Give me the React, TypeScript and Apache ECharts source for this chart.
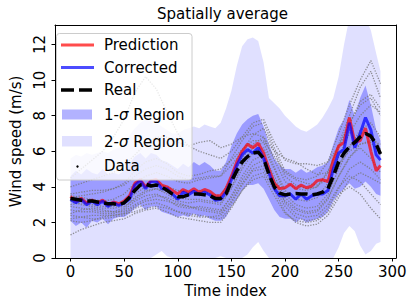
import React, { useEffect, useRef } from 'react';
import * as echarts from 'echarts';

const FONT = 'DejaVu Sans';

const timeIndex = [0, 5, 10, 15, 20, 25, 30, 35, 40, 45, 50, 55, 60, 65, 70, 75, 80, 85, 90, 95, 100, 105, 110, 115, 120, 125, 130, 135, 140, 145, 150, 155, 160, 165, 170, 175, 180, 185, 190, 195, 200, 205, 210, 215, 220, 225, 230, 235, 240, 245, 250, 255, 260, 265, 270, 275, 280, 285, 289];

const prediction = [3.45, 3.2, 3.35, 3.1, 3.25, 3.1, 3.25, 3.0, 3.15, 3.05, 3.2, 3.5, 4.2, 4.4, 4.0, 4.35, 4.4, 4.1, 4.0, 3.8, 3.6, 3.85, 3.7, 3.9, 3.7, 3.85, 3.75, 3.5, 3.5, 3.9, 4.6, 5.4, 6.0, 6.4, 6.2, 6.45, 5.9, 5.0, 4.2, 3.9, 3.95, 4.15, 3.9, 4.1, 3.95, 4.05, 4.35, 4.4, 4.3, 5.5, 6.3, 6.5, 7.9, 6.5, 6.6, 7.3, 6.0, 4.9, 5.2];

const corrected = [3.3, 3.1, 3.3, 3.0, 3.2, 3.0, 3.2, 2.9, 3.1, 2.95, 3.1, 3.3, 4.1, 4.35, 3.9, 4.3, 4.3, 3.9, 3.9, 3.6, 3.3, 3.7, 3.55, 3.75, 3.55, 3.7, 3.55, 3.25, 3.3, 3.7, 4.4, 5.2, 5.8, 6.1, 5.9, 6.2, 5.6, 4.8, 3.9, 3.5, 3.5, 3.6, 3.3, 3.6, 3.3, 3.5, 3.6, 3.6, 3.8, 5.0, 5.9, 6.1, 7.6, 6.2, 7.0, 7.9, 7.2, 5.8, 5.5];

const real = [3.35, 3.3, 3.25, 3.2, 3.2, 3.15, 3.1, 3.05, 3.05, 3.0, 3.1, 3.4, 3.8, 4.1, 4.15, 4.05, 4.1, 4.0, 3.8, 3.6, 3.45, 3.45, 3.55, 3.6, 3.6, 3.55, 3.5, 3.35, 3.35, 3.6, 4.3, 4.9, 5.4, 5.7, 5.9, 5.95, 5.6, 4.7, 4.0, 3.65, 3.55, 3.6, 3.62, 3.6, 3.6, 3.55, 3.6, 3.7, 3.9, 4.6, 5.4, 5.9, 6.25, 6.5, 6.8, 7.0, 6.85, 6.4, 5.85];

const sigma1Lower = [2.1, 1.8, 2.0, 1.7, 2.1, 2.0, 2.2, 1.9, 2.2, 2.3, 2.3, 2.5, 2.8, 3.0, 2.7, 2.9, 2.9, 2.6, 2.5, 2.4, 2.3, 2.4, 2.3, 2.5, 2.3, 2.4, 2.2, 2.1, 2.1, 2.3, 2.9, 3.3, 3.8, 4.1, 4.1, 4.2, 3.9, 3.3, 2.7, 2.3, 2.2, 2.2, 2.0, 2.2, 2.0, 2.1, 2.2, 2.3, 2.6, 3.2, 3.6, 3.9, 4.2, 3.9, 4.0, 4.3, 4.0, 3.6, 3.5];

const sigma1Upper = [4.6, 4.9, 4.7, 5.0, 4.8, 4.7, 5.0, 4.7, 4.8, 4.7, 4.9, 5.3, 5.7, 5.9, 5.6, 5.9, 5.8, 5.5, 5.4, 5.2, 5.0, 5.3, 5.1, 5.4, 5.2, 5.4, 5.2, 4.9, 4.9, 5.4, 6.3, 7.0, 7.5, 7.8, 8.0, 8.1, 7.4, 6.4, 5.6, 5.2, 5.0, 5.0, 4.8, 5.0, 4.8, 4.9, 5.1, 5.2, 5.4, 6.4, 7.3, 7.8, 8.9, 8.0, 9.0, 9.7, 8.6, 7.2, 6.6];

const sigma2Lower = [0, 0, 0, 0, 0, 0, 0, 0, 0, 0, 0, 0, 0, 0, 0, 0, 0.2, 0.4, 0.1, 0, 0, 0, 0, 0, 0, 0, 0, 0, 0.1, 0, 0, 0, 0, 0.2, 0.6, 0.9, 0.4, 0, 0, 0, 0, 0, 0, 0, 0, 0, 0, 0, 0, 0, 0.6, 1.4, 1.8, 1.5, 0.7, 0.2, 0.4, 0.8, 0.9];

const sigma2Upper = [5.6, 5.8, 5.7, 5.9, 5.8, 5.9, 6.0, 5.9, 6.1, 6.2, 6.4, 6.9, 7.3, 7.6, 7.8, 7.7, 7.6, 7.4, 7.2, 7.0, 7.0, 7.2, 7.3, 7.4, 7.3, 7.5, 7.4, 7.3, 7.6, 8.4, 9.4, 10.8, 11.9, 12.3, 12.4, 12.2, 11.0, 9.0, 8.7, 8.4, 8.0, 7.7, 7.4, 7.2, 7.1, 7.3, 7.5, 7.9, 8.4, 9.0, 10.2, 12.0, 13.5, 13.5, 13.6, 13.5, 12.8, 11.5, 10.5];

const dataTime = [0, 10, 20, 30, 40, 50, 60, 70, 80, 90, 100, 110, 120, 130, 140, 150, 160, 170, 180, 190, 200, 210, 220, 230, 240, 250, 260, 270, 280, 289];

const data01 = [4.5, 5.0, 5.5, 6.0, 6.8, 7.8, 9.3, 10.2, 9.5, 8.2, 7.0, 6.3, 6.0, 5.8, 5.6, 6.0, 6.8, 7.6, 7.8, 6.5, 5.5, 5.3, 5.3, 5.2, 5.4, 6.3, 7.5, 8.8, 9.2, 8.4];
const data02 = [3.5, 3.4, 3.3, 3.2, 3.3, 3.6, 4.2, 4.6, 4.8, 4.6, 4.3, 4.2, 4.4, 4.5, 4.6, 5.6, 6.6, 7.4, 7.6, 6.2, 4.9, 4.5, 4.4, 4.6, 5.4, 7.0, 8.6, 10.0, 11.1, 9.8];
const data03 = [3.0, 3.1, 3.0, 2.9, 2.9, 3.0, 3.6, 4.0, 4.2, 4.0, 3.8, 3.7, 3.8, 3.6, 3.5, 4.5, 5.6, 6.4, 6.8, 5.5, 4.3, 3.9, 3.8, 4.0, 4.8, 6.4, 8.0, 9.6, 10.5, 9.0];
const data04 = [1.3, 1.6, 1.8, 2.0, 2.1, 2.2, 2.5, 2.7, 2.8, 2.6, 2.3, 2.2, 2.1, 2.0, 2.0, 2.8, 3.8, 4.6, 4.8, 3.8, 2.6, 2.0, 1.8, 1.9, 2.4, 3.4, 4.4, 4.8, 4.5, 4.2];
const data05 = [2.4, 2.3, 2.2, 2.2, 2.3, 2.4, 2.8, 3.0, 3.1, 2.9, 2.6, 2.5, 2.4, 2.3, 2.2, 2.9, 3.8, 4.4, 4.6, 3.5, 2.5, 2.1, 2.0, 2.1, 2.6, 3.6, 4.0, 3.6, 2.8, 2.2];
const data06 = [2.7, 2.6, 2.6, 2.5, 2.5, 2.7, 3.2, 3.5, 3.6, 3.3, 2.9, 2.8, 2.9, 2.8, 2.7, 3.4, 4.4, 5.2, 5.5, 4.4, 3.1, 2.5, 2.3, 2.4, 3.0, 4.0, 4.6, 4.3, 3.6, 3.0];
const data07 = [3.2, 3.0, 2.9, 2.8, 2.8, 2.9, 3.3, 3.7, 3.9, 3.6, 3.2, 3.1, 3.2, 3.1, 3.0, 3.9, 5.0, 5.9, 6.2, 5.0, 3.6, 3.0, 2.8, 2.9, 3.6, 5.0, 6.2, 7.2, 7.6, 6.8];
const data08 = [4.0, 4.2, 4.4, 4.6, 4.8, 5.2, 5.8, 6.4, 6.8, 6.8, 6.5, 6.3, 6.5, 6.6, 6.2, 6.4, 6.8, 7.0, 6.8, 6.0, 5.6, 5.4, 5.0, 4.7, 4.8, 5.3, 6.0, 6.4, 6.6, 6.4];
const data09 = [2.5, 2.7, 2.8, 2.7, 2.6, 2.6, 3.0, 3.3, 3.5, 3.4, 3.1, 2.9, 2.7, 2.6, 2.5, 3.2, 4.2, 5.0, 5.2, 4.2, 3.2, 2.7, 2.5, 2.6, 3.3, 4.6, 5.7, 6.2, 5.6, 4.8];
const data10 = [3.4, 3.5, 3.6, 3.7, 3.9, 4.2, 4.9, 5.4, 5.6, 5.3, 4.8, 4.6, 4.7, 4.9, 5.0, 5.5, 6.1, 6.6, 6.6, 5.7, 4.8, 4.4, 4.2, 4.1, 4.4, 5.2, 6.3, 7.0, 7.0, 6.1];
const data11 = [2.9, 2.8, 2.7, 2.6, 2.6, 2.8, 3.4, 3.8, 3.9, 3.7, 3.4, 3.3, 3.3, 3.2, 3.1, 4.0, 5.2, 6.2, 6.5, 5.1, 3.8, 3.3, 3.2, 3.4, 4.2, 5.7, 7.0, 8.0, 8.6, 8.2];
const data12 = [2.1, 2.0, 2.1, 2.3, 2.4, 2.5, 2.6, 2.8, 2.9, 2.8, 2.6, 2.4, 2.3, 2.3, 2.4, 3.1, 4.1, 4.9, 5.0, 4.0, 2.9, 2.3, 2.1, 2.2, 2.8, 3.9, 5.0, 5.4, 5.0, 4.4];
const data13 = [3.6, 3.7, 3.8, 3.8, 3.9, 4.1, 4.6, 5.0, 5.2, 5.0, 4.6, 4.4, 4.5, 4.6, 4.6, 5.2, 6.0, 6.9, 7.3, 6.0, 4.6, 4.1, 3.9, 4.0, 4.9, 6.2, 7.6, 8.6, 9.0, 8.0];
const data14 = [2.2, 2.3, 2.4, 2.4, 2.4, 2.5, 2.9, 3.2, 3.3, 3.2, 3.0, 2.9, 2.8, 2.7, 2.6, 3.5, 4.6, 5.5, 5.8, 4.6, 3.4, 2.8, 2.6, 2.7, 3.4, 4.6, 5.6, 6.4, 6.5, 5.8];

const dataLines = [data01, data02, data03, data04, data05, data06, data07, data08, data09, data10, data11, data12, data13, data14];

const xTicks = [0, 50, 100, 150, 200, 250, 300];
const yTicks = [0, 2, 4, 6, 8, 10, 12];

const RED = 'rgba(255,0,0,0.7)';
const BLUE = 'rgba(0,0,255,0.7)';
const S1 = 'rgba(0,0,255,0.3)';
const S2 = 'rgba(0,0,255,0.12)';

const pairs = (xs: number[], ys: number[]) => xs.map((x, i) => [x, ys[i]]);

function bandSeries(name: string, lower: number[], upper: number[], color: string) {
  return {
    type: 'custom',
    name,
    silent: true,
    clip: true,
    data: [[timeIndex[0], lower[0]]],
    encode: { x: 0, y: 1 },
    renderItem: (_params: any, api: any) => {
      const pts: number[][] = [];
      for (let i = 0; i < timeIndex.length; i++) pts.push(api.coord([timeIndex[i], upper[i]]));
      for (let i = timeIndex.length - 1; i >= 0; i--) pts.push(api.coord([timeIndex[i], lower[i]]));
      return { type: 'polygon', shape: { points: pts }, style: { fill: color, stroke: 'none' } };
    },
  };
}

export default function App() {
  const ref = useRef<HTMLDivElement>(null);
  useEffect(() => {
    if (!ref.current) return;
    const chart = echarts.init(ref.current, undefined, { renderer: 'svg' });
    const lineBase = { type: 'line', symbol: 'none', showSymbol: false, silent: true, animation: false };
    const series: any[] = [
      bandSeries('2-σ Region', sigma2Lower, sigma2Upper, S2),
      bandSeries('1-σ Region', sigma1Lower, sigma1Upper, S1),
      ...dataLines.map((d, k) => ({
        ...lineBase, name: 'Data ' + (k + 1), data: pairs(dataTime, d),
        lineStyle: { color: 'rgba(120,120,120,0.8)', width: 1.3, type: [1.3, 1.4] },
      })),
      { ...lineBase, name: 'Prediction', data: pairs(timeIndex, prediction), lineStyle: { color: RED, width: 3 } },
      { ...lineBase, name: 'Corrected', data: pairs(timeIndex, corrected), lineStyle: { color: BLUE, width: 3 } },
      { ...lineBase, name: 'Real', data: pairs(timeIndex, real), lineStyle: { color: '#000', width: 3.5, type: [12, 5] } },
    ];

    const txt = (x: number, y: number, text: string, extra: any = {}) => ({
      type: 'text', x, y, z: 101,
      style: { text, fontSize: 15, fontFamily: FONT, fill: '#000', align: 'left', verticalAlign: 'middle', ...extra },
    });
    const italic = { i: { fontStyle: 'italic', fontSize: 15, fontFamily: FONT, fill: '#000' } };

    const graphic: any[] = [
      { type: 'text', x: 222.5, y: 14, z: 101, style: { text: 'Spatially average', fontSize: 15, fontFamily: FONT, fill: '#000', align: 'center', verticalAlign: 'middle' } },
      { type: 'rect', z: 100, shape: { x: 56.5, y: 33.5, width: 135.5, height: 146.5, r: 3 }, style: { fill: 'rgba(255,255,255,0.8)', stroke: '#cccccc', lineWidth: 1 } },
      { type: 'line', z: 101, shape: { x1: 61, y1: 45, x2: 94, y2: 45 }, style: { stroke: RED, lineWidth: 3 } },
      txt(104, 45, 'Prediction'),
      { type: 'line', z: 101, shape: { x1: 61, y1: 67.5, x2: 94, y2: 67.5 }, style: { stroke: BLUE, lineWidth: 3 } },
      txt(104, 67.5, 'Corrected'),
      { type: 'line', z: 101, shape: { x1: 61, y1: 90, x2: 94, y2: 90 }, style: { stroke: '#000', lineWidth: 3.5, lineDash: [13, 5] } },
      txt(104, 90, 'Real'),
      { type: 'rect', z: 101, shape: { x: 62, y: 109.5, width: 30, height: 10 }, style: { fill: S1 } },
      txt(104, 115, '1-{i|σ} Region', { rich: italic }),
      { type: 'rect', z: 101, shape: { x: 62, y: 136, width: 30, height: 10.5 }, style: { fill: S2 } },
      txt(104, 141.5, '2-{i|σ} Region', { rich: italic }),
      { type: 'circle', z: 101, shape: { cx: 77.5, cy: 166.5, r: 1.2 }, style: { fill: '#000' } },
      txt(104, 165.5, 'Data'),
    ];

    const axisFont = { color: '#000', fontSize: 15, fontFamily: FONT };
    chart.setOption({
      animation: false,
      backgroundColor: '#fff',
      grid: { left: 49, top: 25, width: 347, height: 233, containLabel: false },
      xAxis: [
        {
          type: 'value', min: -14.45, max: 303.45, position: 'bottom', z: 10,
          axisLine: { show: true, onZero: false, lineStyle: { color: '#000', width: 1 } },
          axisTick: { show: true, length: 3.5, lineStyle: { color: '#000', width: 1 }, customValues: xTicks },
          axisLabel: { ...axisFont, margin: 6, customValues: xTicks },
          splitLine: { show: false },
          name: 'Time index', nameLocation: 'middle', nameGap: 24, nameTextStyle: { ...axisFont },
        },
        {
          type: 'value', min: -14.45, max: 303.45, position: 'top', z: 10,
          axisLine: { show: true, onZero: false, lineStyle: { color: '#000', width: 1 } },
          axisTick: { show: false }, axisLabel: { show: false }, splitLine: { show: false },
        },
      ],
      yAxis: [
        {
          type: 'value', min: 0, max: 13.1, position: 'left', z: 10,
          axisLine: { show: true, onZero: false, lineStyle: { color: '#000', width: 1 } },
          axisTick: { show: true, length: 3.5, lineStyle: { color: '#000', width: 1 }, customValues: yTicks },
          axisLabel: { ...axisFont, margin: 8, rotate: 90, customValues: yTicks },
          splitLine: { show: false },
          name: 'Wind speed (m/s)', nameLocation: 'middle', nameGap: 32, nameTextStyle: { ...axisFont },
        },
        {
          type: 'value', min: 0, max: 13.1, position: 'right', z: 10,
          axisLine: { show: true, onZero: false, lineStyle: { color: '#000', width: 1 } },
          axisTick: { show: false }, axisLabel: { show: false }, splitLine: { show: false },
        },
      ],
      series,
      graphic,
    });
    return () => chart.dispose();
  }, []);
  return <div ref={ref} style={{ position: 'absolute', left: 0, top: 0, width: 413, height: 306 }} />;
}
